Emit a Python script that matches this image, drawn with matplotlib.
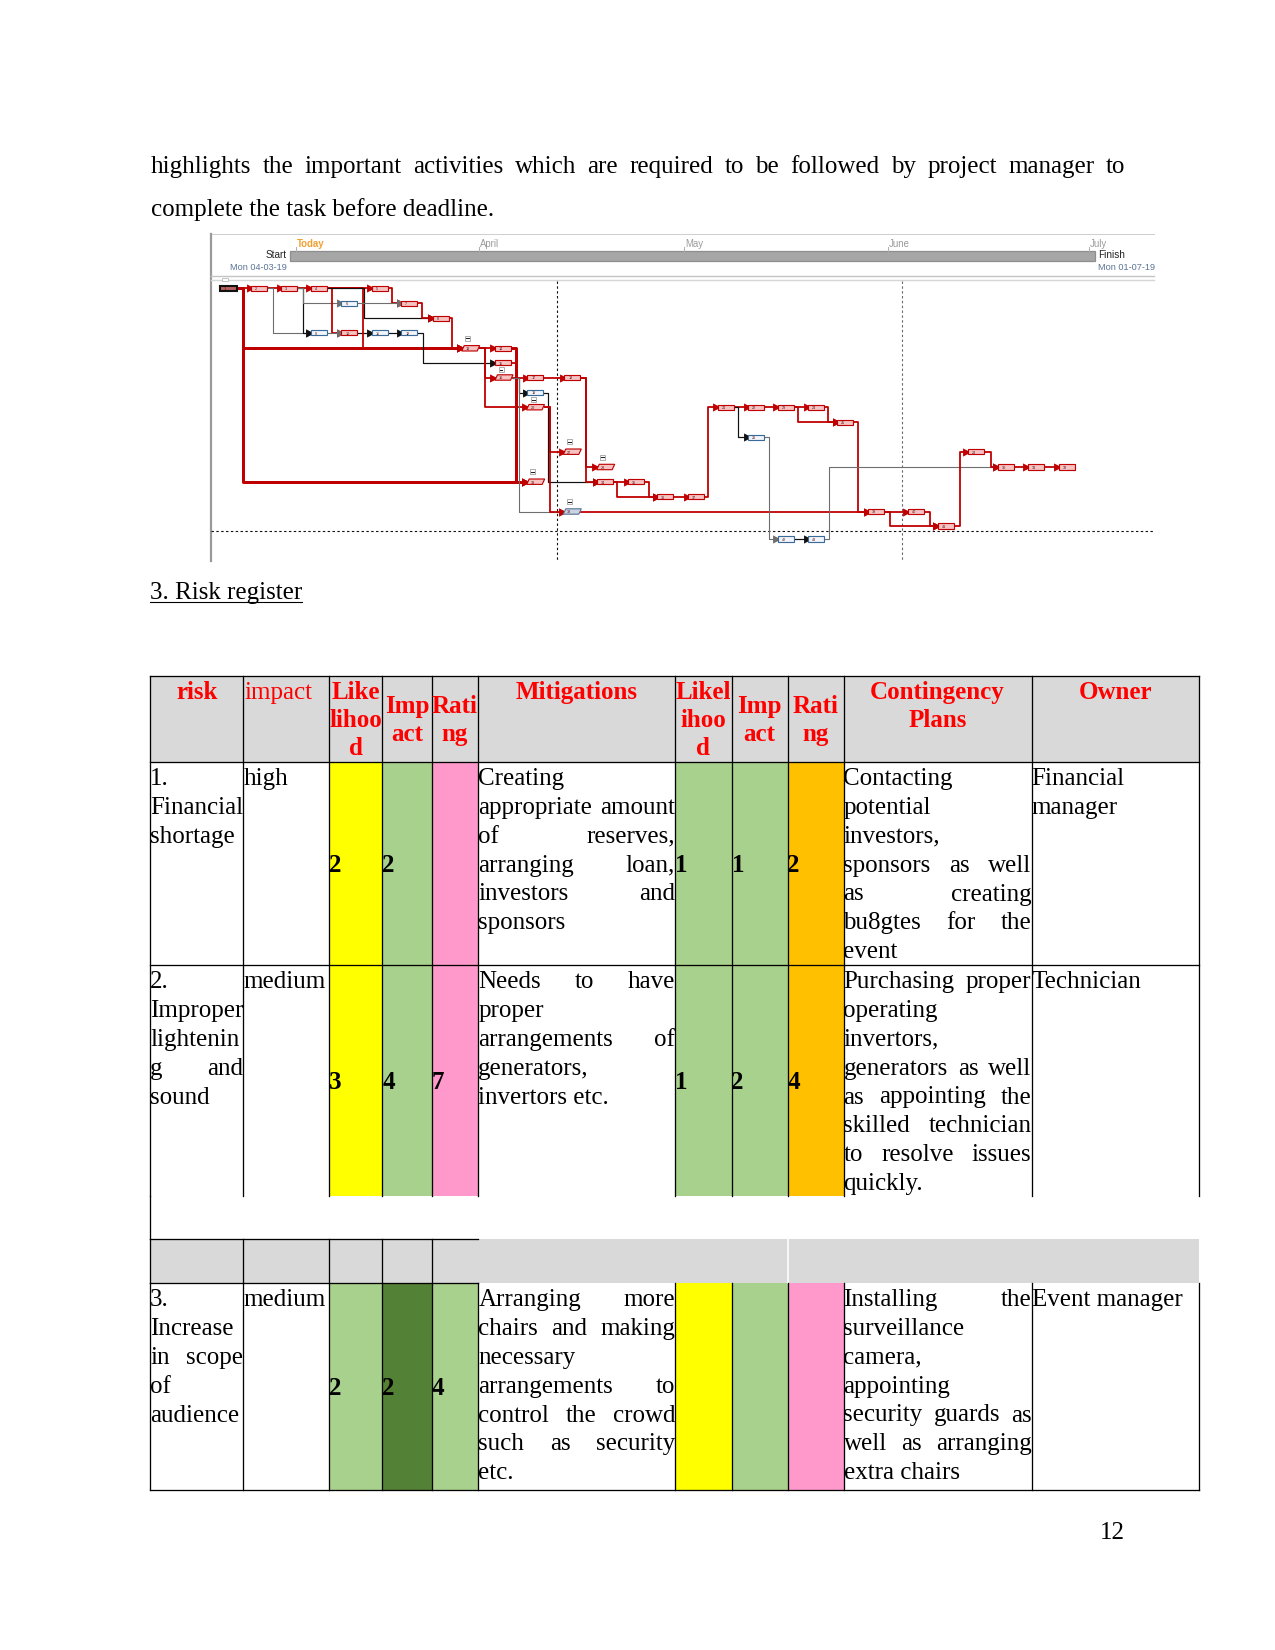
import matplotlib
matplotlib.use("Agg")
import matplotlib.pyplot as plt
from matplotlib.patches import Rectangle, Polygon

SERIF = ["Liberation Serif", "DejaVu Serif"]
SANS = ["Liberation Sans", "DejaVu Sans"]

# ---- page text ----
para_lines = ["highlights the important activities which are required to be followed by project manager to",
              "complete the task before deadline."]
section_title = "3. Risk register"
page_number = "12"

# ---- risk register ----
col_x = [150, 243.3, 328.7, 382.3, 431.7, 478.3, 675, 731.5, 787.5, 843.5, 1031.5, 1198.5]
headers = [["risk"], ["impact"], ["Like", "lihoo", "d"], ["Imp", "act"], ["Rati", "ng"],
           ["Mitigations"], ["Likel", "ihoo", "d"], ["Imp", "act"], ["Rati", "ng"],
           ["Contingency", "Plans"], ["Owner"]]

risks = [["1.", "Financial", "shortage"],
         ["2.", "Improper", "lightenin", "g and", "sound"],
         ["3.", "Increase", "in scope", "of", "audience"]]
impacts = ["high", "medium", "medium"]
likelihood_1 = [2, 3, 2]
impact_1 = [2, 4, 2]
rating_1 = [None, 7, 4]
mitigations = [["Creating", "appropriate amount", "of reserves,", "arranging loan,", "investors and", "sponsors"],
               ["Needs to have", "proper", "arrangements of", "generators,", "invertors etc."],
               ["Arranging more", "chairs and making", "necessary", "arrangements to",
                "control the crowd", "such as security", "etc."]]
likelihood_2 = [1, 1, None]
impact_2 = [1, 2, None]
rating_2 = [2, 4, None]
contingency = [["Contacting", "potential", "investors,", "sponsors as well", "as creating",
                "bu8gtes for the", "event"],
               ["Purchasing proper", "operating", "invertors,", "generators as well",
                "as appointing the", "skilled technician", "to resolve issues", "quickly."],
               ["Installing the", "surveillance", "camera,", "appointing", "security guards as",
                "well as arranging", "extra chairs"]]
owners = [["Financial", "manager"], ["Technician"], ["Event manager"]]

YEL, GRN, PNK, ORG, DGR, GRY = "#FFFF00", "#A9D18E", "#FF99CC", "#FFC000", "#538135", "#D9D9D9"
cell_colors = [[YEL, GRN, PNK, GRN, GRN, ORG],
               [YEL, GRN, PNK, GRN, GRN, ORG],
               [GRN, DGR, GRN, YEL, GRN, PNK]]
row_spans = [(762.3, 965.3), (965.3, 1196.0), (1283.3, 1490.0)]
table_top = 675.7
band_top, band_bot = 1239.3, 1283.3

# ---- network diagram (page pixel positions of task boxes) ----
nodes = {
    "S": (220.0, 288.3, "s"),
    "A1": (251.3, 288.3, "r"), "A2": (281.3, 288.3, "r"), "A3": (311.0, 288.3, "r"), "A4": (371.7, 288.3, "r"),
    "B1": (341.3, 303.3, "b"), "B2": (401.3, 303.3, "r"),
    "C1": (432.7, 318.3, "r"),
    "D1": (311.0, 332.7, "b"), "D2": (341.3, 332.7, "r"), "D3": (371.7, 332.7, "b"), "D4": (401.3, 332.7, "b"),
    "E1": (461.7, 348.3, "p"), "E2": (495.0, 348.3, "r"),
    "F1": (495.0, 362.7, "r"),
    "G1": (495.0, 377.5, "p"), "G2": (527.3, 377.5, "r"), "G3": (564.3, 377.5, "r"),
    "H1": (527.3, 392.5, "b"),
    "I1": (526.5, 407.2, "p"), "I2": (717.7, 407.2, "r"), "I3": (748.3, 407.2, "r"),
    "I4": (777.7, 407.2, "r"), "I5": (808.3, 407.2, "r"),
    "J1": (837.3, 422.3, "r"),
    "K1": (748.3, 437.3, "b"),
    "L1": (563.3, 451.7, "p"), "L2": (968.0, 451.7, "r"),
    "M1": (596.7, 467.0, "p"), "M2": (998.0, 467.0, "r"), "M3": (1028.0, 467.0, "r"), "M4": (1058.5, 467.0, "r"),
    "N1": (526.7, 481.7, "p"), "N2": (597.3, 481.7, "r"), "N3": (628.3, 481.7, "r"),
    "O1": (657.3, 496.7, "r"), "O2": (688.3, 496.7, "r"),
    "P1": (563.3, 511.5, "q"), "P2": (868.3, 511.5, "r"), "P3": (908.0, 511.5, "r"),
    "Q1": (938.0, 526.0, "r"),
    "R1": (777.7, 539.0, "b"), "R2": (808.3, 539.0, "b"),
}
# (from, to, line type, x of the vertical run)
links = [
    ("S", "A1", "red", None), ("S", "E1", "thick", 243.3), ("S", "N1", "thick", 243.3),
    ("A1", "A2", "red", None), ("A2", "A3", "red", None), ("A1", "D1", "gray", 272.7),
    ("A2", "D1", "black", 302.7), ("A2", "B1", "gray", 302.7), ("A3", "A4", "red", None),
    ("A3", "D2", "red", 331.7), ("D1", "D2", "gray", None), ("D2", "D3", "black", None),
    ("A3", "E1", "red", 362.7), ("A3", "C1", "black", 364.0), ("D3", "D4", "black", None),
    ("A4", "B2", "red", 392.0), ("B1", "B2", "gray", None), ("B2", "C1", "red", 422.0),
    ("C1", "E1", "red", 451.7), ("D4", "F1", "black", 423.3), ("E1", "E2", "red", None),
    ("E1", "G1", "red", 485.0), ("E1", "I1", "red", 485.0), ("E2", "N1", "thick", 515.7),
    ("F1", "N1", "red", 515.7), ("G1", "G2", "red", None), ("G2", "G3", "red", None),
    ("G1", "H1", "black", 518.5), ("G1", "P1", "gray", 518.5), ("H1", "N2", "black", 548.3),
    ("I1", "L1", "red", 549.5), ("I1", "P1", "red", 549.5), ("G3", "N2", "red", 585.7),
    ("G3", "M1", "red", 585.7), ("N2", "N3", "red", None), ("N2", "O1", "red", 617.3),
    ("N3", "O1", "red", 649.0), ("O1", "O2", "red", None), ("O2", "I2", "red", 708.3),
    ("I2", "I3", "red", None), ("I2", "K1", "black", 738.3), ("I3", "I4", "red", None),
    ("I4", "I5", "red", None), ("I4", "J1", "red", 798.3), ("I5", "J1", "red", 828.3),
    ("J1", "P2", "red", 858.3), ("P1", "P2", "red", None), ("K1", "R1", "gray", 769.3),
    ("R1", "R2", "black", None), ("R2", "M2", "gray", 829.3), ("P2", "P3", "red", None),
    ("P2", "Q1", "red", 889.5), ("P3", "Q1", "red", 929.5), ("Q1", "L2", "red", 960.0),
    ("L2", "M2", "red", 990.8), ("M2", "M3", "red", None), ("M3", "M4", "red", None),
]
collapse_marks = [("E1", -10), ("F1", 7), ("H1", 7), ("L1", -10), ("M1", -10), ("N1", -10), ("P1", -10)]
months = ["Today", "April", "May", "June", "July"]
month_x = [296, 479, 684, 888, 1089]

fig = plt.figure(figsize=(8.5, 11), dpi=150)
ax = fig.add_axes([0, 0, 1, 1])
ax.set_xlim(0, 1275)
ax.set_ylim(1650, 0)
ax.axis("off")
renderer = fig.canvas.get_renderer()
PX = 72 / 150  # points per pixel


def text_w(s, **kw):
    t = ax.text(0, 0, s, **kw)
    w = t.get_window_extent(renderer).width
    t.remove()
    return w


def put_lines(lines, x0, x1, y0, lh, justify=True, **kw):
    for i, line in enumerate(lines):
        y = y0 + i * lh
        words = line.split()
        if justify and i < len(lines) - 1 and len(words) > 1:
            ws = [text_w(w, **kw) for w in words]
            gap = (x1 - x0 - sum(ws)) / (len(words) - 1)
            x = x0
            for w, wd in zip(words, ws):
                ax.text(x, y, w, ha="left", va="baseline", **kw)
                x += wd + gap
        else:
            ax.text(x0, y, line, ha="left", va="baseline", **kw)


body = dict(fontsize=12, family=SERIF, color="black")
put_lines(para_lines, 150.7, 1125, 173.3, 42.7, **body)

# ---- diagram ----
ax.plot([210, 1154], [234, 234], color="#CFCFCF", lw=1 * PX)
ax.plot([211, 211], [233.5, 561], color="#9A9A9A", lw=2.2 * PX)
ax.add_patch(Rectangle((290, 251.3), 805, 10, facecolor="#A6A6A6", edgecolor="#8E8E8E", lw=0.6))
for m, mx in zip(months, month_x):
    ax.plot([mx, mx], [246.5, 251.3], color="#B0B0B0", lw=0.5)
    if m == "Today":
        ax.text(mx + 1, 247, m, fontsize=4.6, family=SANS, color="#F0A030", weight="bold", va="baseline")
    else:
        ax.text(mx + 1, 247, m, fontsize=4.6, family=SANS, color="#9A9A9A", va="baseline")
ax.text(287, 258.5, "Start", fontsize=4.8, family=SANS, ha="right", va="baseline", color="#222222")
ax.text(1098, 258.5, "Finish", fontsize=4.8, family=SANS, ha="left", va="baseline", color="#222222")
ax.text(287, 270, "Mon 04-03-19", fontsize=4.4, family=SANS, ha="right", va="baseline", color="#5A7394")
ax.text(1098, 270, "Mon 01-07-19", fontsize=4.4, family=SANS, ha="left", va="baseline", color="#5A7394")
ax.plot([211, 1154], [276, 276], color="#C4C4C4", lw=1.4 * PX)
ax.plot([211, 1154], [280.3, 280.3], color="#D6D6D6", lw=1.4 * PX)
for vx, vc in [(557, "#111111"), (902, "#6A6A6A")]:
    ax.plot([vx, vx], [281, 561], color=vc, lw=1.1 * PX, dashes=(2.2, 2.2))
ax.plot([211, 1154], [531.3, 531.3], color="#111111", lw=1.1 * PX, dashes=(2.2, 2.2))

BW, BH = 16.0, 5.4
styles = {"red": ("#C00000", 1.8 * PX), "thick": ("#C00000", 3.0 * PX),
          "black": ("#111111", 1.2 * PX), "gray": ("#6E6E6E", 1.1 * PX)}


def width_of(kind):
    return 18.0 if kind in "pq" else (17.0 if kind == "s" else BW)


for a, b, kind, xv in links:
    xa, ya, ka = nodes[a]
    xb, yb, kb = nodes[b]
    x0 = xa + width_of(ka)
    col, lw = styles[kind]
    if xv is None or abs(ya - yb) < 0.5:
        xs, ys = [x0, xb], [ya, yb]
    else:
        xs, ys = [x0, xv, xv, xb], [ya, ya, yb, yb]
    ax.plot(xs, ys, color=col, lw=lw, solid_joinstyle="round", zorder=2)
    ax.plot([xb - 1.6], [yb], marker=">", ms=2.3, color=col, mec=col, zorder=3)

for i, (name, (x, y, kind)) in enumerate(nodes.items()):
    w = width_of(kind)
    if kind == "r":
        ax.add_patch(Rectangle((x, y - BH / 2), w, BH, facecolor="#F6C3C3", edgecolor="#C00000", lw=0.55, zorder=4))
    elif kind == "b":
        ax.add_patch(Rectangle((x, y - BH / 2), w, BH, facecolor="#F2F6FB", edgecolor="#3A6A9A", lw=0.55, zorder=4))
    elif kind == "s":
        ax.add_patch(Rectangle((x, y - BH / 2), w, BH, facecolor="#B86060", edgecolor="#111111", lw=1.0, zorder=4))
    else:
        fc, ec = ("#F6C3C3", "#C00000") if kind == "p" else ("#C9D3E3", "#5A7394")
        sk = 2.5
        ax.add_patch(Polygon([(x, y + BH / 2), (x + sk, y - BH / 2), (x + w, y - BH / 2), (x + w - sk, y + BH / 2)],
                             closed=True, facecolor=fc, edgecolor=ec, lw=0.55, zorder=4))
    ax.text(x + 4, y + 0.9, str(i + 1), fontsize=1.8, family=SANS, color="#5A1010", va="center", zorder=5)

for name, dy in collapse_marks:
    x, y, kind = nodes[name]
    cx, cy = x + 6, y + dy
    ax.add_patch(Rectangle((cx - 2.5, cy - 2.5), 5, 5, facecolor="white", edgecolor="#A0A0A0", lw=0.4, zorder=4))
    ax.plot([cx - 1.4, cx + 1.4], [cy, cy], color="#222222", lw=0.5, zorder=5)
ax.add_patch(Rectangle((222, 277.5), 6, 3, facecolor="white", edgecolor="#BBBBBB", lw=0.4, zorder=4))

# ---- section title ----
ax.text(150, 599.3, section_title, ha="left", va="baseline", **body)
tw = text_w(section_title, **body)
ax.plot([150, 150 + tw], [602.3, 602.3], color="black", lw=1.1 * PX)

# ---- table fills ----
ax.add_patch(Rectangle((col_x[0], table_top), col_x[-1] - col_x[0], 762.3 - table_top, facecolor=GRY, lw=0))
ax.add_patch(Rectangle((col_x[0], band_top), col_x[-1] - col_x[0], band_bot - band_top, facecolor=GRY, lw=0))
ax.plot([col_x[8], col_x[8]], [band_top, band_bot], color="white", lw=1.6 * PX)
color_cols = [2, 3, 4, 6, 7, 8]
for r, (top, bot) in enumerate(row_spans):
    for k, c in enumerate(color_cols):
        ax.add_patch(Rectangle((col_x[c], top), col_x[c + 1] - col_x[c], bot - top,
                               facecolor=cell_colors[r][k], lw=0))

# ---- table lines ----
LW = 1.3 * PX
for x in col_x:
    ax.plot([x, x], [table_top, row_spans[1][1]], color="black", lw=LW)
    ax.plot([x, x], [row_spans[2][0], row_spans[2][1]], color="black", lw=LW)
for x in col_x[:5]:
    ax.plot([x, x], [band_top, band_bot], color="black", lw=LW)
ax.plot([col_x[0], col_x[0]], [row_spans[1][1], band_top], color="black", lw=LW)
for y in [table_top, 762.3, 965.3, 1490.0]:
    ax.plot([col_x[0], col_x[-1]], [y, y], color="black", lw=LW)
for y in [band_top, band_bot]:
    ax.plot([col_x[0], col_x[5]], [y, y], color="black", lw=LW)

# ---- header text ----
hdr = dict(fontsize=12, family=SERIF, color="#FF0000")
HLH = 27.8
for c, lines in enumerate(headers):
    x0, x1 = col_x[c], col_x[c + 1]
    first = 699.0
    if c in (3, 4, 7, 8):
        first = 699.0 + (3 - len(lines)) * HLH / 2
    for i, line in enumerate(lines):
        if c == 1:
            ax.text(x0 + 1, first + i * HLH, line, ha="left", va="baseline", **hdr)
        else:
            ax.text((x0 + x1) / 2, first + i * HLH, line, ha="center", va="baseline", weight="bold", **hdr)

# ---- body rows ----
LH = 28.8
num_cols = [(2, likelihood_1), (3, impact_1), (4, rating_1), (6, likelihood_2), (7, impact_2), (8, rating_2)]
text_cols = [(0, risks), (1, [[s] for s in impacts]), (5, mitigations), (9, contingency), (10, owners)]
for r, (top, bot) in enumerate(row_spans):
    y0 = top + 23.0
    for c, data in text_cols:
        put_lines(data[r], col_x[c], col_x[c + 1], y0, LH, **body)
    for c, vals in num_cols:
        if vals[r] is not None:
            ax.text(col_x[c], (top + bot) / 2 + 8, str(vals[r]), ha="left", va="baseline",
                    weight="bold", **body)

ax.text(1125, 1539.3, page_number, ha="right", va="baseline", **body)

fig.savefig("out.png", dpi=150)
